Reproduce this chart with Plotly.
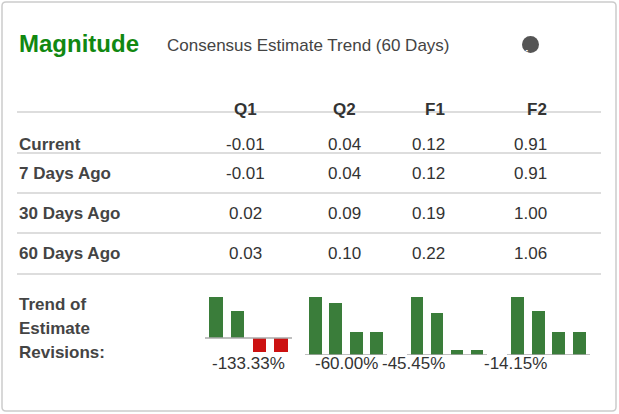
import plotly.graph_objects as go

W, H = 619, 414
cols = ["Q1", "Q2", "F1", "F2"]
row_labels = ["Current", "7 Days Ago", "30 Days Ago", "60 Days Ago"]
values = {
    "Q1": [-0.01, -0.01, 0.02, 0.03],
    "Q2": [0.04, 0.04, 0.09, 0.10],
    "F1": [0.12, 0.12, 0.19, 0.22],
    "F2": [0.91, 0.91, 1.00, 1.06],
}
trend_pct = ["-133.33%", "-60.00%", "-45.45%", "-14.15%"]
y_ranges = {"Q1": [-0.0124, 0.03], "Q2": [0, 0.10], "F1": [0.11, 0.22], "F2": [0.81, 1.06]}

def px(x): return x / W
def py(y): return 1 - y / H

col_x = [245, 344, 447, 549]
row_y = [133, 173, 214, 254]
spark_x = [(205, 292), (305, 387), (407, 487), (507, 590)]
spark_top, spark_bot = 297, 355

fig = go.Figure()
ann = []
shapes = []
font = "Liberation Sans, Arial, sans-serif"

def A(**kw):
    kw.setdefault("xref", "paper"); kw.setdefault("yref", "paper"); kw.setdefault("showarrow", False)
    ann.append(kw)

# card border
shapes.append(dict(type="path", xref="paper", yref="paper",
    path=f"M {px(6)},{py(2)} L {px(612)},{py(2)} Q {px(616)},{py(2)} {px(616)},{py(6)} L {px(616)},{py(407)} Q {px(616)},{py(411)} {px(612)},{py(411)} L {px(6)},{py(411)} Q {px(2)},{py(411)} {px(2)},{py(407)} L {px(2)},{py(6)} Q {px(2)},{py(2)} {px(6)},{py(2)} Z",
    line=dict(color="#cccccc", width=1.5)))

A(x=px(17), y=py(43), text="<b>Magnitude</b>", xanchor="left", yanchor="middle",
  font=dict(family=font, size=24, color="#118811"))
A(x=px(165), y=py(45), text="Consensus Estimate Trend (60 Days)", xanchor="left",
  yanchor="middle", font=dict(family=font, size=17, color="#444444"))
shapes.append(dict(type="circle", xref="paper", yref="paper", x0=px(522), x1=px(539), y0=py(36), y1=py(53),
                   fillcolor="#555555", line=dict(width=0)))
A(x=px(530.5), y=py(44.5), text="<b>i</b>", font=dict(family=font, size=13, color="white"))

for c, x in zip(cols, col_x):
    A(x=px(x), y=py(98), text=f"<b>{c}</b>", font=dict(family=font, size=17, color="#333333"))
for i, (lab, y) in enumerate(zip(row_labels, row_y)):
    A(x=px(17), y=py(y), text=f"<b>{lab}</b>", xanchor="left", font=dict(family=font, size=17, color="#444444"))
    for c, x in zip(cols, col_x):
        A(x=px(x), y=py(y), text=f"{values[c][i]:.2f}", font=dict(family=font, size=17, color="#333333"))
for ly in [112, 153, 193, 233, 274]:
    shapes.append(dict(type="line", xref="paper", yref="paper", x0=px(17), x1=px(601), y0=py(ly), y1=py(ly),
                       line=dict(color="#dddddd", width=2)))

for k, t in enumerate(["Trend of", "Estimate", "Revisions:"]):
    A(x=px(17), y=py(316 + 24 * k), text=f"<b>{t}</b>", xanchor="left", font=dict(family=font, size=17, color="#444444"))

layout_axes = {}
for j, c in enumerate(cols):
    s = "" if j == 0 else str(j + 1)
    vals = values[c][::-1]  # 60 days ago -> current
    colors = ["#3a7d3a" if v >= 0 else "#cc1111" for v in vals]
    fig.add_trace(go.Bar(x=[0, 1, 2, 3], y=vals, marker=dict(color=colors, line=dict(width=0)), width=0.62,
                         xaxis="x" + s, yaxis="y" + s, showlegend=False, hoverinfo="skip"))
    x0, x1 = spark_x[j]
    layout_axes["xaxis" + s] = dict(domain=[px(x0), px(x1)], range=[-0.5, 3.5], visible=False, anchor="y" + s)
    layout_axes["yaxis" + s] = dict(domain=[py(spark_bot), py(spark_top)], range=y_ranges[c], visible=False,
                                    anchor="x" + s)
    base = 0 if c == "Q1" else y_ranges[c][0]
    shapes.append(dict(type="line", xref=f"x{s} domain", yref="y" + s, x0=0, x1=1, y0=base, y1=base,
                       line=dict(color="#aaaaaa", width=1.5)))
    A(x=px((x0 + x1) / 2), y=py(375), text=trend_pct[j], font=dict(family=font, size=17, color="#333333"))

fig.update_layout(width=W, height=H, margin=dict(l=0, r=0, t=0, b=0), paper_bgcolor="white",
                  plot_bgcolor="rgba(0,0,0,0)", annotations=ann, shapes=shapes, bargap=0, **layout_axes)
fig.write_html("out.html", config={"displayModeBar": False},
               post_script="document.body.style.margin='0';document.body.style.overflow='hidden';")
